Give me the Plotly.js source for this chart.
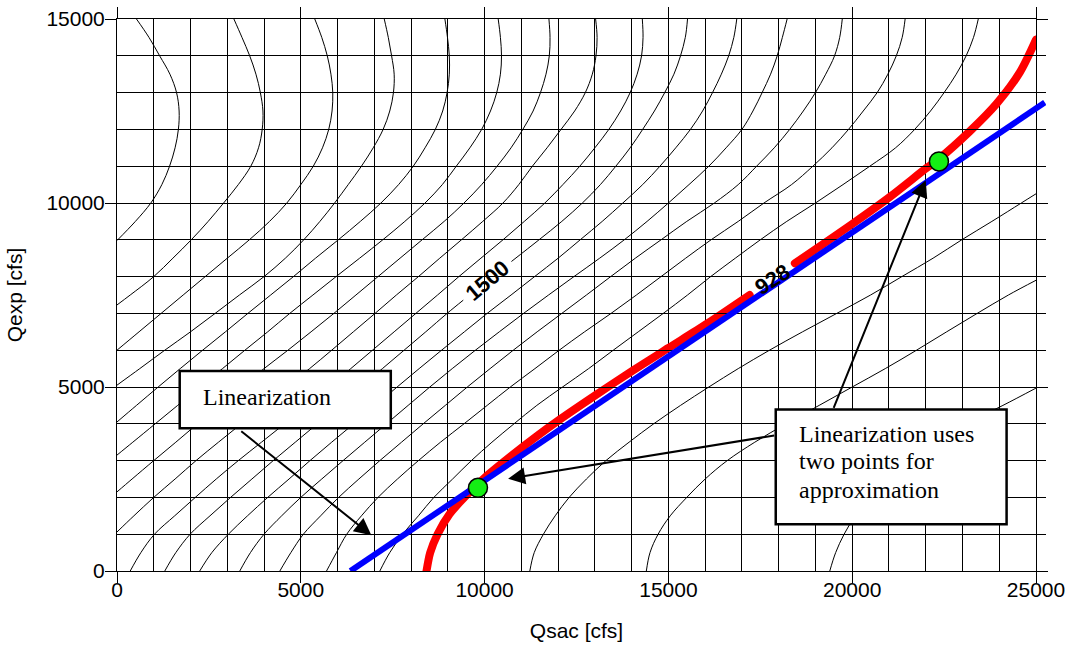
<!DOCTYPE html>
<html><head><meta charset="utf-8">
<script src="https://cdn.plot.ly/plotly-3.0.1.min.js"></script>
<style>html,body{margin:0;padding:0;background:#fff}#chart{width:1071px;height:647px}
.scatterlayer .trace:nth-child(19) .js-line{stroke-linecap:round}</style>
</head><body><div id="chart"></div>
<script>
// contour lines, [Qsac, Qexp] in cfs
const c01 = [[0,8980],[500,9500],[920,10000],[1220,10500],[1430,11000],[1580,11500],[1670,12000],[1690,12500],[1620,13000],[1440,13500],[1160,14000],[870,14500],[530,15000]];
const c02 = [[0,7230],[360,7500],[1000,8000],[1520,8500],[2020,9000],[2480,9500],[2900,10000],[3300,10500],[3640,11000],[3850,11500],[3950,12000],[3970,12500],[3900,13000],[3780,13500],[3610,14000],[3400,14500],[3180,15000]];
const c03 = [[0,6000],[600,6500],[1200,7000],[1800,7500],[2400,8000],[3000,8500],[3600,9000],[4150,9500],[4620,10000],[5000,10500],[5340,11000],[5590,11500],[5760,12000],[5850,12500],[5870,13000],[5820,13500],[5720,14000],[5570,14500],[5380,15000]];
const c04 = [[0,5050],[620,5500],[1300,6000],[2000,6500],[2670,7000],[3330,7500],[4000,8000],[4580,8500],[5080,9000],[5520,9500],[5920,10000],[6290,10500],[6650,11000],[6970,11500],[7240,12000],[7420,12500],[7520,13000],[7540,13500],[7470,14000],[7380,14500],[7270,15000]];
const c05 = [[0,4050],[530,4500],[1120,5000],[1720,5500],[2330,6000],[2950,6500],[3560,7000],[4180,7500],[4800,8000],[5400,8500],[6020,9000],[6620,9500],[7180,10000],[7660,10500],[8060,11000],[8380,11500],[8660,12000],[8860,12500],[8980,13000],[9040,13500],[9040,14000],[8990,14500],[8920,15000]];
const c06 = [[0,3150],[430,3500],[1040,4000],[1650,4500],[2250,5000],[2870,5500],[3480,6000],[4100,6500],[4700,7000],[5330,7500],[5960,8000],[6600,8500],[7230,9000],[7830,9500],[8380,10000],[8850,10500],[9230,11000],[9600,11500],[9920,12000],[10160,12500],[10330,13000],[10430,13500],[10460,14000],[10430,14500],[10370,15000]];
const c07 = [[0,2150],[410,2500],[1000,3000],[1600,3500],[2190,4000],[2800,4500],[3380,5000],[4000,5500],[4650,6000],[5280,6500],[5900,7000],[6500,7500],[7100,8000],[7700,8500],[8300,9000],[8900,9500],[9440,10000],[9920,10500],[10340,11000],[10720,11500],[11040,12000],[11320,12500],[11520,13000],[11670,13500],[11760,14000],[11780,14500],[11750,15000]];
const c08 = [[0,1060],[460,1500],[1000,2000],[1580,2500],[2150,3000],[2760,3500],[3380,4000],[4000,4500],[4600,5000],[5240,5500],[5840,6000],[6430,6500],[7020,7000],[7600,7500],[8200,8000],[8780,8500],[9370,9000],[9950,9500],[10500,10000],[10930,10500],[11300,11000],[11700,11500],[12080,12000],[12450,12500],[12740,13000],[12930,13500],[13030,14000],[13060,14500],[13020,15000]];
const c09 = [[360,0],[650,500],[1020,1000],[1570,1500],[2130,2000],[2700,2500],[3300,3000],[3930,3500],[4560,4000],[5170,4500],[5770,5000],[6360,5500],[6950,6000],[7540,6500],[8130,7000],[8720,7500],[9300,8000],[9900,8500],[10500,9000],[11080,9500],[11640,10000],[12130,10500],[12590,11000],[13000,11500],[13380,12000],[13700,12500],[13960,13000],[14150,13500],[14270,14000],[14310,14500],[14290,15000]];
const c10 = [[1300,0],[1600,500],[1990,1000],[2530,1500],[3090,2000],[3670,2500],[4250,3000],[4850,3500],[5450,4000],[6040,4500],[6630,5000],[7220,5500],[7810,6000],[8400,6500],[8980,7000],[9420,7360],null,[10730,8410],[11480,9000],[12100,9500],[12660,10000],[13150,10500],[13570,11000],[13960,11500],[14300,12000],[14620,12500],[14900,13000],[15150,13500],[15330,14000],[15460,14500],[15520,15000]];
const c11 = [[2250,0],[2580,500],[3030,1000],[3550,1500],[4100,2000],[4680,2500],[5250,3000],[5840,3500],[6440,4000],[7030,4500],[7620,5000],[8220,5500],[8830,6000],[9450,6500],[10070,7000],[10720,7500],[11360,8000],[12000,8500],[12600,9000],[13200,9500],[13760,10000],[14300,10500],[14770,11000],[15200,11500],[15600,12000],[15930,12500],[16200,13000],[16440,13500],[16640,14000],[16780,14500],[16860,15000]];
const c12 = [[3340,0],[3630,500],[4000,1000],[4480,1500],[5000,2000],[5570,2500],[6150,3000],[6740,3500],[7330,4000],[7920,4500],[8510,5000],[9120,5500],[9750,6000],[10400,6500],[11060,7000],[11740,7500],[12430,8000],[13130,8500],[13800,9000],[14420,9500],[15000,10000],[15560,10500],[16100,11000],[16570,11500],[17000,12000],[17300,12500],[17550,13000],[17780,13500],[17960,14000],[18100,14500],[18230,15000]];
const c13 = [[4430,0],[4730,500],[5070,1000],[5540,1500],[6030,2000],[6580,2500],[7150,3000],[7740,3500],[8330,4000],[8930,4500],[9530,5000],[10150,5500],[10780,6000],[11430,6500],[12100,7000],[12770,7500],[13430,8000],[14100,8500],[14800,9000],[15500,9500],[16250,10000],[16900,10500],[17400,11000],[17880,11500],[18300,12000],[18670,12500],[19000,13000],[19280,13500],[19520,14000],[19660,14500],[19730,15000]];
const c14 = [[5700,0],[5970,500],[6250,1000],[6650,1500],[7100,2000],[7630,2500],[8200,3000],[8800,3500],[9440,4000],[10070,4500],[10700,5000],[11370,5500],[12030,6000],[12720,6500],[13440,7000],[14130,7500],[14800,8000],[15470,8500],[16160,9000],[16900,9500],[17600,10000],[18350,10500],[18930,11000],[19450,11500],[19900,12000],[20300,12500],[20680,13000],[20970,13500],[21200,14000],[21360,14500],[21440,15000]];
const c15 = [[7150,0],[7420,500],[7770,1000],[8200,1500],[8620,2000],[9130,2500],[9640,3000],[10200,3500],[10800,4000],[11420,4500],[12120,5000],[12830,5500],[13500,6000],[14180,6500],[14860,7000],[15520,7500],[16150,8000],[16820,8500],[17500,9000],[18220,9500],[19000,10000],[19750,10500],[20480,11000],[21180,11500],[21700,12000],[22130,12500],[22500,13000],[22830,13500],[23100,14000],[23300,14500],[23430,15000]];
const c16 = [[11230,0],[11350,500],[11600,1000],[11920,1500],[12300,2000],[12770,2500],[13300,3000],[13930,3500],[14600,4000],[15330,4500],[16100,5000],[16900,5500],[17750,6000],[18650,6500],[19580,7000],[20500,7500],[21350,8000],[22200,8500],[22980,9000],[23800,9500],[24600,10000],[25000,10250]];
const c17 = [[14400,0],[14500,500],[14720,1000],[15050,1500],[15500,2000],[16000,2500],[16600,3000],[17350,3500],[18200,4000],[19100,4500],[20000,5000],[20900,5500],[21750,6000],[22570,6500],[23400,7000],[24250,7500],[25000,7900]];
const c18 = [[19390,0],[19550,500],[19780,1000],[20080,1500],[20450,2000],[20920,2500],[21500,3000],[22250,3500],[23100,4000],[24100,4500],[25000,4970]];

// highlighted 928 contour (gap for its label)
const red928 = [[8420,0],[8520,500],[8720,1000],[9050,1550],[9500,2050],[10100,2620],[10750,3150],[11400,3650],[12050,4120],[13050,4800],[14050,5460],[15000,6060],[16050,6720],[17210,7500],null,[18440,8360],[20030,9450],[21030,10170],[22020,10950],[22360,11200],[23200,11950],[23930,12700],[24560,13550],[25000,14440]];
// linearization line and its two points
const blueLine = [[6350,0],[25240,12730]];
const greenPts = [[9820,2260],[22360,11130]];

const xTickVals = [0,5000,10000,15000,20000,25000];
const yTickVals = [0,5000,10000,15000];
const contourLabels = [{text:'1500', x:10080, y:7890, angle:-40},{text:'928', x:17830, y:7930, angle:-33}];

const contours = [c01,c02,c03,c04,c05,c06,c07,c08,c09,c10,c11,c12,c13,c14,c15,c16,c17,c18];
const xs = a => a.map(p => p ? p[0] : null);
const ys = a => a.map(p => p ? p[1] : null);

const traces = contours.map(c => ({
  type:'scatter', mode:'lines', x:xs(c), y:ys(c), xaxis:'x', yaxis:'y',
  line:{color:'#000', width:1, shape:'spline', smoothing:1}, hoverinfo:'skip', connectgaps:false
}));
traces.push({type:'scatter', mode:'lines', x:xs(red928), y:ys(red928), xaxis:'x', yaxis:'y',
  line:{color:'#ff0000', width:8, shape:'spline', smoothing:0.8}, connectgaps:false, hoverinfo:'skip'});
traces.push({type:'scatter', mode:'lines', x:xs(blueLine), y:ys(blueLine), xaxis:'x2', yaxis:'y',
  line:{color:'#0000ff', width:6}, hoverinfo:'skip'});
traces.push({type:'scatter', mode:'markers', x:xs(greenPts), y:ys(greenPts), xaxis:'x2', yaxis:'y', cliponaxis:false,
  marker:{size:19, color:'#14ee14', line:{color:'#000', width:1.5}}, hoverinfo:'skip'});

const L = 117, R = 25, W = 1071, H = 647;
const mainFrac = 919 / (W - L - R);

const serif = 'Liberation Serif, Times New Roman, serif';
const annotations = [];
contourLabels.forEach(c => annotations.push({x:c.x, y:c.y, xref:'x', yref:'y', text:'<b>' + c.text + '</b>', showarrow:false,
  textangle:c.angle, font:{size:22, color:'#000'}}));
annotations.push({x:2297, y:4730, xref:'x', yref:'y', text:'Linearization', showarrow:false, xanchor:'left', yanchor:'middle', font:{family:serif, size:24, color:'#000'}});
annotations.push({x:18490, y:3710, xref:'x', yref:'y', text:'Linearization uses', showarrow:false, xanchor:'left', yanchor:'middle', font:{family:serif, size:24, color:'#000'}});
annotations.push({x:18490, y:2976, xref:'x', yref:'y', text:'two points for', showarrow:false, xanchor:'left', yanchor:'middle', font:{family:serif, size:24, color:'#000'}});
annotations.push({x:18490, y:2214, xref:'x', yref:'y', text:'approximation', showarrow:false, xanchor:'left', yanchor:'middle', font:{family:serif, size:24, color:'#000'}});
const arrowStyle = {xref:'x', yref:'y', axref:'x', ayref:'y', text:'', showarrow:true, arrowhead:2, arrowsize:1.7, arrowwidth:2, arrowcolor:'#000'};
annotations.push(Object.assign({x:6920, y:970, ax:3340, ay:3830}, arrowStyle));
annotations.push(Object.assign({x:10640, y:2510, ax:17920, ay:3690}, arrowStyle));
annotations.push(Object.assign({x:22000, y:10620, ax:19480, ay:4390}, arrowStyle));

const shapes = [
  {type:'rect', xref:'x', yref:'y', x0:1706, x1:7448, y0:3882, y1:5433, fillcolor:'#fff', line:{color:'#000', width:2.5}, layer:'above'},
  {type:'rect', xref:'x', yref:'y', x0:17920, x1:24200, y0:1270, y1:4390, fillcolor:'#fff', line:{color:'#000', width:2.5}, layer:'above'}
];

const axisCommon = {
  ticks:'outside', ticklen:11, tickwidth:1, tickcolor:'#000', showline:true, linecolor:'#000', linewidth:1,
  mirror:'ticks', showgrid:true, gridcolor:'#000', gridwidth:1, zeroline:false, tickformat:'d', fixedrange:true,
  minor:{dtick:1000, tick0:0, showgrid:true, gridcolor:'#000', gridwidth:1, ticks:''},
  tickfont:{size:21, color:'#000'}
};

const layout = {
  width:W, height:H, margin:{l:L, r:R, t:19, b:76, pad:0},
  paper_bgcolor:'#fff', plot_bgcolor:'rgba(0,0,0,0)', showlegend:false,
  font:{family:'Liberation Sans, Arial, sans-serif', size:21, color:'#000'},
  xaxis:Object.assign({}, axisCommon, {domain:[0, mainFrac], range:[0,25000], tickvals:xTickVals, ticklabelstandoff:-11,
    title:{text:'Qsac [cfs]', font:{size:21}, standoff:23}}),
  yaxis:Object.assign({}, axisCommon, {range:[0,15000], tickvals:yTickVals, ticklabelstandoff:-4,
    title:{text:'Qexp [cfs]', font:{size:21}, standoff:18}}),
  xaxis2:{domain:[0,1], range:[0, 25000/mainFrac], visible:false, anchor:'y', fixedrange:true},
  annotations:annotations, shapes:shapes
};

Plotly.newPlot('chart', traces, layout, {staticPlot:true, displayModeBar:false});
</script>
</body></html>
